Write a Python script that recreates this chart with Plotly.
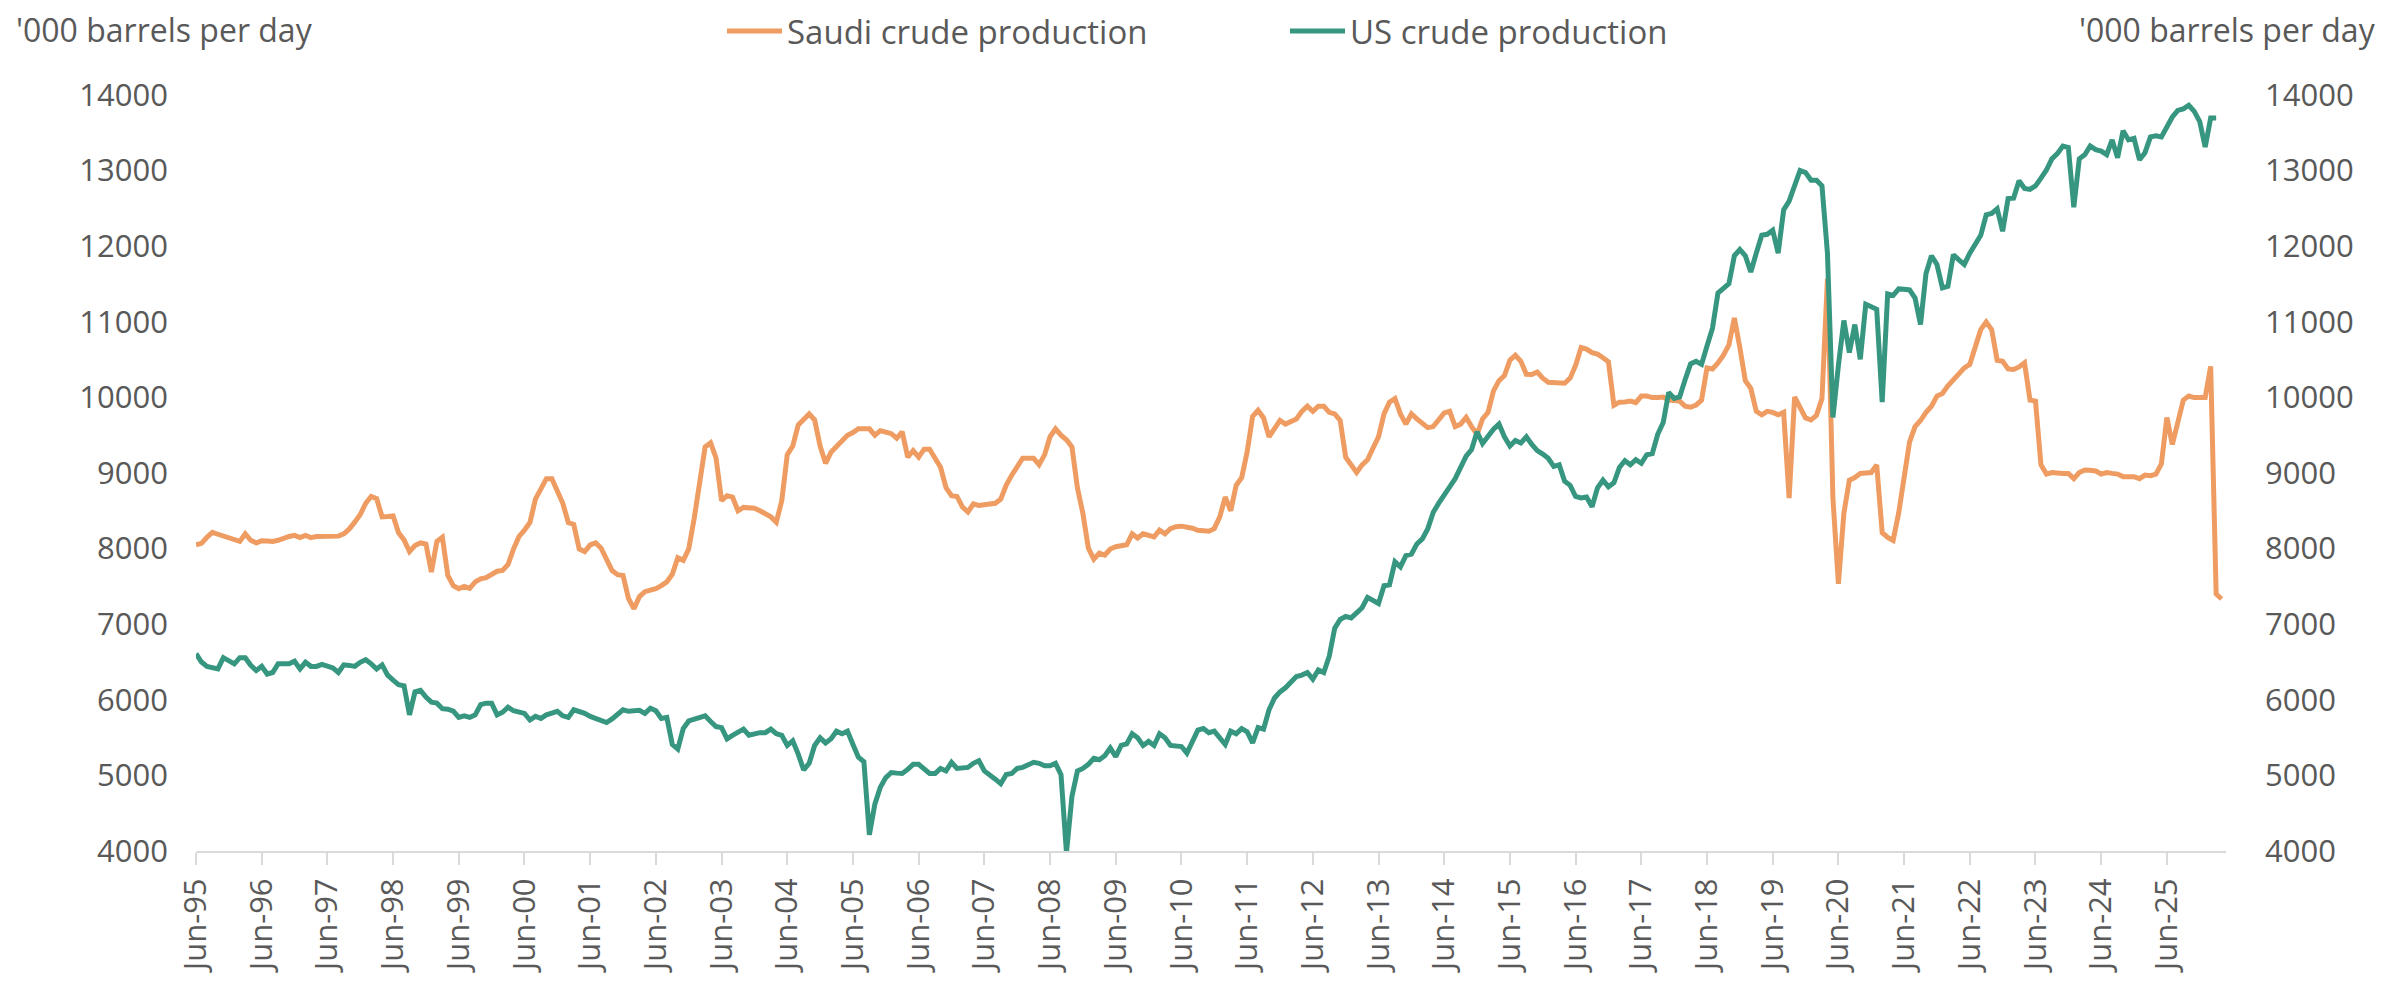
import plotly.graph_objects as go

# Monthly values, Jun-95 onwards ('000 barrels per day)
saudi = [
    8050, 8070, 8150, 8215, 8190, 8170, 8150, 8120, 8095, 8195, 8110, 8075,
    8105, 8100, 8095, 8110, 8140, 8160, 8175, 8145, 8175, 8145, 8160, 8165,
    8165, 8165, 8165, 8195, 8260, 8350, 8450, 8600, 8690, 8660, 8420, 8425,
    8433, 8210, 8115, 7960, 8040, 8075, 8060, 7690, 8095, 8150, 7645, 7510,
    7470, 7500, 7475, 7560, 7600, 7615, 7660, 7700, 7710, 7790, 7995, 8160,
    8245, 8345, 8655, 8805, 8925, 8925, 8750, 8600, 8345, 8320, 7995, 7960,
    8050, 8075, 8005, 7860, 7710, 7655, 7645, 7340, 7205, 7365, 7430, 7450,
    7470, 7510, 7560, 7660, 7880, 7845, 7995, 8400, 8870, 9345, 9400, 9195,
    8635, 8700, 8680, 8500, 8545, 8540, 8535, 8500, 8465, 8420, 8350, 8635,
    9242, 9357, 9634, 9701, 9782, 9701, 9357, 9128, 9276, 9350, 9431, 9499,
    9535, 9585, 9585, 9585, 9500, 9560, 9540, 9520, 9460, 9545, 9210, 9295,
    9210, 9315, 9315, 9195, 9075, 8805, 8700, 8690, 8550, 8485, 8590, 8570,
    8575, 8580, 8600, 8655, 8840, 8970, 9095, 9195, 9195, 9195, 9110, 9240,
    9480, 9585, 9500, 9440, 9345, 8805, 8465, 8005, 7860, 7940, 7915, 7995,
    8025, 8040, 8050, 8195, 8140, 8195, 8180, 8155, 8245, 8195, 8265, 8290,
    8297, 8291, 8270, 8243, 8235, 8230, 8264, 8419, 8682, 8500, 8837, 8939,
    9276, 9748, 9829, 9728, 9479, 9593, 9695, 9647, 9681, 9715, 9816, 9884,
    9816, 9884, 9884, 9802, 9782, 9695, 9209, 9108, 9006, 9108, 9175, 9330,
    9479, 9782, 9937, 9985, 9782, 9647, 9782, 9715, 9647, 9600, 9614, 9695,
    9796, 9816, 9614, 9647, 9735, 9614, 9512, 9715, 9802, 10086, 10221, 10288,
    10491, 10558, 10477, 10305, 10302, 10335, 10255, 10200, 10200, 10200, 10187, 10255,
    10423, 10659, 10639, 10592, 10572, 10525, 10470, 9897, 9937, 9940, 9951, 9931,
    10018, 10018, 9998, 10000, 10005, 9964, 9960, 9951, 9884, 9870, 9897, 9964,
    10390, 10376, 10457, 10558, 10693, 11051, 10659, 10221, 10120, 9816, 9769, 9816,
    9802, 9769, 9802, 8669, 10005, 9864, 9728, 9701, 9762, 9985, 11570, 8669,
    7535, 8466, 8905, 8939, 8993, 9000, 9006, 9108, 8210, 8149, 8109, 8466,
    8939, 9411, 9613, 9694, 9802, 9883, 10018, 10052, 10153, 10230, 10302, 10390,
    10437, 10659, 10896, 10997, 10896, 10491, 10477, 10376, 10369, 10403, 10457, 9964,
    9951, 9108, 8986, 9006, 8995, 8993, 8993, 8925, 9006, 9040, 9035, 9026,
    8986, 9006, 8995, 8986, 8952, 8952, 8952, 8925, 8972, 8965, 8986, 9121,
    9735, 9377, 9670, 9964, 10018, 9998, 9998, 9998, 10410, 7400, 7333,
]

us = [
    6610, 6500, 6442, 6429, 6408, 6557, 6510, 6476, 6557, 6557, 6456, 6388,
    6442, 6341, 6361, 6476, 6476, 6476, 6510, 6408, 6496, 6442, 6442, 6469,
    6445, 6422, 6361, 6462, 6455, 6442, 6496, 6530, 6476, 6408, 6462, 6327,
    6260, 6200, 6185, 5801, 6105, 6125, 6037, 5969, 5956, 5882, 5875, 5850,
    5767, 5788, 5767, 5801, 5936, 5956, 5956, 5801, 5835, 5902, 5855, 5845,
    5820, 5733, 5781, 5754, 5801, 5825, 5848, 5788, 5767, 5868, 5848, 5820,
    5780, 5750, 5720, 5700, 5747, 5810, 5868, 5848, 5855, 5862, 5821, 5889,
    5855, 5754, 5767, 5409, 5348, 5619, 5720, 5745, 5767, 5788, 5713, 5646,
    5632, 5484, 5530, 5578, 5612, 5531, 5548, 5565, 5565, 5612, 5551, 5531,
    5396, 5457, 5281, 5072, 5160, 5396, 5497, 5430, 5484, 5585, 5551, 5585,
    5409, 5241, 5180, 4215, 4620, 4843, 4971, 5038, 5030, 5025, 5079, 5146,
    5146, 5079, 5025, 5025, 5092, 5059, 5173, 5092, 5106, 5106, 5160, 5194,
    5059, 5011, 4950, 4890, 5011, 5025, 5092, 5106, 5140, 5173, 5160, 5126,
    5126, 5160, 5011, 3979, 4721, 5059, 5092, 5146, 5227, 5207, 5261, 5362,
    5248, 5396, 5416, 5551, 5497, 5396, 5450, 5396, 5551, 5497, 5396, 5396,
    5382, 5295, 5430, 5598, 5619, 5565, 5585, 5484, 5409, 5585, 5551, 5619,
    5578, 5430, 5632, 5612, 5868, 6024, 6105, 6158, 6240, 6307, 6327, 6361,
    6273, 6395, 6361, 6577, 6948, 7063, 7103, 7083, 7150, 7218, 7355, 7319,
    7274, 7508, 7521, 7825, 7758, 7906, 7927, 8061, 8129, 8264, 8480, 8601,
    8723, 8817, 8925, 9074, 9222, 9310, 9546, 9391, 9492, 9580, 9647, 9479,
    9357, 9431, 9398, 9479, 9377, 9296, 9250, 9195, 9087, 9108, 8891, 8837,
    8689, 8669, 8682, 8554, 8804, 8905, 8817, 8871, 9074, 9162, 9108, 9175,
    9128, 9242, 9256, 9512, 9667, 10066, 9985, 10005, 10234, 10443, 10477, 10437,
    10679, 10916, 11381, 11435, 11503, 11874, 11955, 11874, 11658, 11908, 12144, 12157,
    12211, 11908, 12481, 12596, 12819, 13001, 12974, 12873, 12873, 12798, 11908, 9735,
    10423, 11017, 10592, 10963, 10504, 11233, 11200, 11165, 9937, 11368, 11348, 11435,
    11430, 11422, 11314, 10963, 11638, 11874, 11759, 11449, 11469, 11887, 11820, 11759,
    11908, 12022, 12144, 12414, 12434, 12495, 12198, 12630, 12636, 12866, 12765, 12751,
    12798, 12900, 13008, 13156, 13224, 13325, 13305, 12515, 13156, 13210, 13325, 13278,
    13257, 13210, 13406, 13170, 13527, 13406, 13426, 13143, 13237, 13446, 13460, 13446,
    13595, 13709, 13797, 13817, 13865, 13784, 13649, 13311, 13696, 13696,
]

tick_years = ["95", "96", "97", "98", "99", "00", "01", "02", "03", "04", "05",
              "06", "07", "08", "09", "10", "11", "12", "13", "14", "15", "16",
              "17", "18", "19", "20", "21", "22", "23", "24", "25"]
tick_labels = ["Jun-" + y for y in tick_years]
tick_positions = [12 * i for i in range(len(tick_labels))]

ORANGE = "#EE9C62"
TEAL = "#36967F"
GREY = "#595959"
FONT = "Open Sans"

fig = go.Figure()
fig.add_trace(go.Scatter(
    x=list(range(len(saudi))), y=saudi, mode="lines",
    name="Saudi crude production",
    line=dict(color=ORANGE, width=5), yaxis="y"))
fig.add_trace(go.Scatter(
    x=list(range(len(us))), y=us, mode="lines",
    name="US crude production",
    line=dict(color=TEAL, width=5), yaxis="y2"))

W, H = 2386, 982
L, R, T, B = 196, 160, 95, 131
pw = W - L - R
ph = H - T - B

def px_x(x):
    return (x - L) / pw

def px_y(y):
    return (H - B - y) / ph

yax = dict(range=[4000, 14000], tick0=4000, dtick=1000, tickformat="d",
           showgrid=False, zeroline=False, showline=False, ticks="",
           automargin=False, fixedrange=True,
           tickfont=dict(family=FONT, size=31, color=GREY))

fig.update_layout(
    template="none",
    width=W, height=H,
    margin=dict(l=L, r=R, t=T, b=B, pad=0, autoexpand=False),
    paper_bgcolor="white", plot_bgcolor="white",
    font=dict(family=FONT, size=32, color=GREY),
    xaxis=dict(range=[0, 370.8], tickmode="array", tickvals=tick_positions,
               ticktext=tick_labels, tickangle=-90, ticks="outside",
               ticklen=12, tickwidth=2, tickcolor="#D9D9D9",
               showline=True, linecolor="#D9D9D9", linewidth=2,
               showgrid=False, zeroline=False, automargin=False,
               ticklabelstandoff=1, fixedrange=True,
               tickfont=dict(family=FONT, size=31, color=GREY)),
    yaxis=dict(**yax, side="left", ticklabelstandoff=27),
    yaxis2=dict(**yax, side="right", overlaying="y", ticklabelstandoff=38),
    showlegend=True,
    legend=dict(orientation="h", x=px_x(722), xanchor="left",
                y=px_y(31), yanchor="middle",
                font=dict(family=FONT, size=33, color=GREY),
                bgcolor="rgba(0,0,0,0)", entrywidth=493,
                entrywidthmode="pixels", itemwidth=55, traceorder="normal"),
    annotations=[
        dict(text="'000 barrels per day", xref="paper", yref="paper",
             x=px_x(14), y=px_y(29), xanchor="left", yanchor="middle",
             showarrow=False, font=dict(family=FONT, size=32, color=GREY)),
        dict(text="'000 barrels per day", xref="paper", yref="paper",
             x=px_x(2378), y=px_y(29), xanchor="right", yanchor="middle",
             showarrow=False, font=dict(family=FONT, size=32, color=GREY)),
    ],
)

fig.write_html("out.html",
               config={"displayModeBar": False, "staticPlot": True},
               post_script="document.body.style.margin='0';"
                           "document.body.style.overflow='hidden';")
